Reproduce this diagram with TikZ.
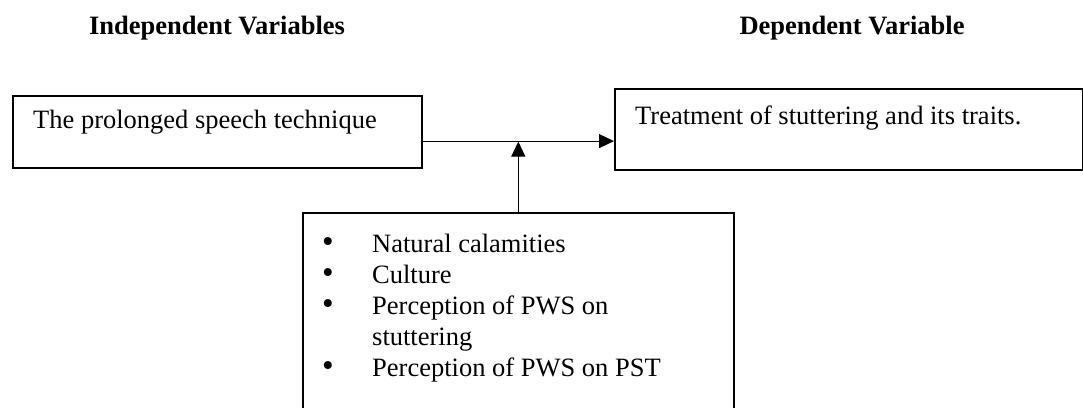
\documentclass[tikz,border=0pt]{standalone}
\usepackage{fontspec}
\setmainfont{Liberation Serif}
\usetikzlibrary{positioning,arrows.meta}
\newcommand{\txtsize}{\fontsize{26.5}{31}\selectfont}
\newcommand{\bigdot}{\smash{\scalebox{1.25}{\textbullet}}}

\tikzset{
  varbox/.style={draw, line width=1.6pt, anchor=north west, inner sep=0pt},
  head/.style={font=\txtsize\bfseries, anchor=base, inner sep=0pt},
  boxtext/.style={font=\txtsize, anchor=base west, inner sep=0pt},
  link/.style={line width=1pt, -{Triangle[length=15pt,width=14pt]}},
}

\begin{document}
\begin{tikzpicture}[x=1pt,y=-1pt]
   \clip (0,0) rectangle (1083,407);
   % headings
   \node[head] (indep) at (217,34) {Independent Variables};
   \node[head] (dep)   at (852,34) {Dependent Variable};
   % the three boxes
   \node[varbox, minimum width=409pt, minimum height=72pt] (tech) at (12,95) {};
   \node[varbox, minimum width=468pt, minimum height=81pt] (treat) at (614,88) {};
   \node[varbox, minimum width=431pt, minimum height=230pt] (factors) at (302,212) {};
   \node[boxtext] (techtxt) at (33,128) {The prolonged speech technique};
   \node[boxtext] (treattxt) at (635,124) {Treatment of stuttering and its traits.};
   \node[boxtext] (factorlist) at (322,252) {%
     \begin{tabular}[t]{@{}p{50pt}@{}l@{}}
       \bigdot & Natural calamities\\
       \bigdot & Culture\\
       \bigdot & Perception of PWS on\\
               & stuttering\\
       \bigdot & Perception of PWS on PST
     \end{tabular}};
   % connectors
   \coordinate (junction) at ([yshift=27.5pt]tech.south east);
   \draw[link] (junction) -- (treat.west |- junction);
   \draw[link, shorten >=0.5pt] (factors.north) -- (factors.north |- junction);
\end{tikzpicture}
\end{document}
